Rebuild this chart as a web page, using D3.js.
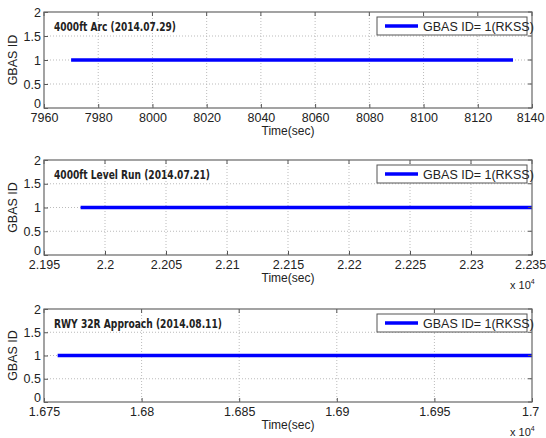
<!doctype html>
<html lang="en">
<head>
<meta charset="UTF-8">
<title>GBAS ID</title>
<script src="https://cdn.jsdelivr.net/npm/d3@7"></script>
<style>
  body { margin: 0; background: #fff; }
  text { font-family: "Liberation Sans", Arial, sans-serif; }
</style>
</head>
<body>
<script>
// panel titles
var titles = ["4000ft Arc (2014.07.29)", "4000ft Level Run (2014.07.21)", "RWY 32R Approach (2014.08.11)"];
var titleWidths = [122, 156, 168];

// x domains (seconds)
var xDomains = [[7960, 8140], [21950, 22350], [16750, 17000]];
var xTicks = [
  [7960, 7980, 8000, 8020, 8040, 8060, 8080, 8100, 8120, 8140],
  [21950, 22000, 22050, 22100, 22150, 22200, 22250, 22300, 22350],
  [16750, 16800, 16850, 16900, 16950, 17000]
];
var xTickLabels = [
  ["7960", "7980", "8000", "8020", "8040", "8060", "8080", "8100", "8120", "8140"],
  ["2.195", "2.2", "2.205", "2.21", "2.215", "2.22", "2.225", "2.23", "2.235"],
  ["1.675", "1.68", "1.685", "1.69", "1.695", "1.7"]
];
var showExp = [false, true, true];

var yTicks = [0, 0.5, 1, 1.5, 2];
var yTickLabels = ["0", "0.5", "1", "1.5", "2"];

// GBAS ID series: time, id
var arcTime = [7970, 8133], arcId = [1, 1];
var levelTime = [21980, 22350], levelId = [1, 1];
var apprTime = [16757, 17000], apprId = [1, 1];
var seriesTime = [arcTime, levelTime, apprTime];
var seriesId = [arcId, levelId, apprId];
var legendLabel = "GBAS ID= 1(RKSS)";

var W = 546, H = 438;
var panelTop = [12, 160, 309], panelBottom = [108, 255, 402];
var left = 44, right = 532;

var svg = d3.select("body").append("svg").attr("width", W).attr("height", H);

titles.forEach(function(title, p) {
  var g = svg.append("g");
  var x = d3.scaleLinear().domain(xDomains[p]).range([left, right]);
  var y = d3.scaleLinear().domain([0, 2]).range([panelBottom[p], panelTop[p]]);

  g.append("rect")
    .attr("x", left).attr("y", panelTop[p])
    .attr("width", right - left).attr("height", panelBottom[p] - panelTop[p])
    .attr("fill", "#fff");

  // grid
  g.selectAll(".gx").data(xTicks[p].slice(1, -1)).enter().append("line")
    .attr("x1", function(d) { return x(d); }).attr("x2", function(d) { return x(d); })
    .attr("y1", panelTop[p]).attr("y2", panelBottom[p])
    .attr("stroke", "#bbb").attr("stroke-width", 1).attr("stroke-dasharray", "1,2");
  g.selectAll(".gy").data(yTicks.slice(1, -1)).enter().append("line")
    .attr("x1", left).attr("x2", right)
    .attr("y1", function(d) { return y(d); }).attr("y2", function(d) { return y(d); })
    .attr("stroke", "#bbb").attr("stroke-width", 1).attr("stroke-dasharray", "1,2");

  // data line
  var pts = seriesTime[p].map(function(t, i) { return [t, seriesId[p][i]]; });
  g.append("path")
    .datum(pts)
    .attr("fill", "none").attr("stroke", "#0000ff").attr("stroke-width", 3.5)
    .attr("d", d3.line().x(function(d) { return x(d[0]); }).y(function(d) { return y(d[1]); }));

  // axes
  var xa = d3.axisBottom(x).tickValues(xTicks[p]).tickSize(-4).tickPadding(5)
    .tickFormat(function(d, i) { return xTickLabels[p][i]; });
  var gx = g.append("g").attr("transform", "translate(0," + panelBottom[p] + ")").call(xa);
  var ya = d3.axisLeft(y).tickValues(yTicks).tickSize(-4).tickPadding(3)
    .tickFormat(function(d, i) { return yTickLabels[i]; });
  var gy = g.append("g").attr("transform", "translate(" + left + ",0)").call(ya);
  [gx, gy].forEach(function(a) {
    a.select(".domain").remove();
    a.selectAll("line").attr("stroke", "#555");
    a.selectAll("text").attr("font-size", 12.5).attr("fill", "#222")
      .style("font-family", "'Liberation Sans', Arial, sans-serif");
  });
  // MATLAB lifts the bottom y label above the x tick row
  gy.selectAll(".tick").filter(function(d) { return d === 0; }).select("text").attr("dy", "-0.05em");
  // keep the last x label inside the window
  gx.selectAll(".tick").filter(function(d, i) { return i === xTicks[p].length - 1; })
    .select("text").attr("dx", "-0.15em");

  // top/right ticks
  g.selectAll(".tt").data(xTicks[p]).enter().append("line")
    .attr("x1", function(d) { return x(d); }).attr("x2", function(d) { return x(d); })
    .attr("y1", panelTop[p]).attr("y2", panelTop[p] + 4).attr("stroke", "#555");
  g.selectAll(".rt").data(yTicks).enter().append("line")
    .attr("x1", right).attr("x2", right - 4)
    .attr("y1", function(d) { return y(d); }).attr("y2", function(d) { return y(d); })
    .attr("stroke", "#555");

  // frame
  g.append("rect")
    .attr("x", left).attr("y", panelTop[p])
    .attr("width", right - left).attr("height", panelBottom[p] - panelTop[p])
    .attr("fill", "none").attr("stroke", "#666").attr("stroke-width", 1.2);

  // title
  g.append("text")
    .attr("x", 54).attr("y", panelTop[p] + 19)
    .attr("font-size", 13).attr("font-weight", "bold").attr("fill", "#222")
    .attr("textLength", titleWidths[p]).attr("lengthAdjust", "spacingAndGlyphs")
    .style("font-family", "'DejaVu Sans Condensed', 'Liberation Sans Narrow', sans-serif")
    .text(title);

  // legend
  var lx = 377, ly = panelTop[p] + 5;
  g.append("rect").attr("x", lx).attr("y", ly).attr("width", 150).attr("height", 18)
    .attr("fill", "#fff").attr("stroke", "#555").attr("stroke-width", 1);
  g.append("line").attr("x1", lx + 8).attr("x2", lx + 41)
    .attr("y1", ly + 9).attr("y2", ly + 9)
    .attr("stroke", "#0000ff").attr("stroke-width", 3.5);
  g.append("text").attr("x", lx + 46).attr("y", ly + 13.5)
    .attr("font-size", 12.5).attr("fill", "#222").text(legendLabel);

  // axis labels
  g.append("text").attr("x", (left + right) / 2).attr("y", panelBottom[p] + 27)
    .attr("text-anchor", "middle").attr("font-size", 12).attr("fill", "#222").text("Time(sec)");
  var yc = (panelTop[p] + panelBottom[p]) / 2;
  g.append("text").attr("transform", "translate(17," + yc + ") rotate(-90)")
    .attr("text-anchor", "middle").attr("font-size", 12.5).attr("fill", "#222").text("GBAS ID");

  if (showExp[p]) {
    var e = g.append("text").attr("x", 510).attr("y", panelBottom[p] + 34)
      .attr("font-size", 11).attr("fill", "#222");
    e.append("tspan").text("x 10");
    e.append("tspan").attr("dy", -5).attr("font-size", 7).text("4");
  }
});
</script>
</body>
</html>
